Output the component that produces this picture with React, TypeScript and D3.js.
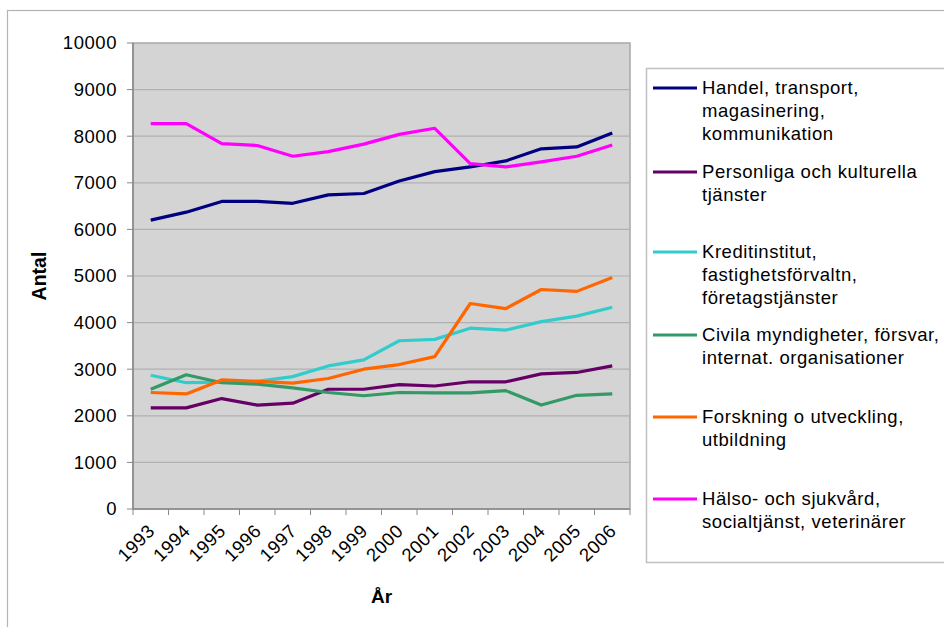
import React from "react";
import * as d3 from "d3";

const years = ["1993","1994","1995","1996","1997","1998","1999","2000","2001","2002","2003","2004","2005","2006"];
const handel = [6200, 6370, 6600, 6600, 6560, 6740, 6770, 7040, 7240, 7340, 7470, 7730, 7770, 8070];
const personliga = [2170, 2170, 2370, 2230, 2270, 2570, 2570, 2670, 2640, 2730, 2730, 2900, 2930, 3070];
const kredit = [2870, 2710, 2720, 2740, 2840, 3070, 3200, 3610, 3640, 3880, 3840, 4020, 4140, 4330];
const civila = [2570, 2880, 2710, 2680, 2600, 2500, 2430, 2500, 2490, 2490, 2540, 2230, 2440, 2470];
const forskning = [2500, 2470, 2770, 2740, 2700, 2800, 3000, 3100, 3270, 4410, 4300, 4710, 4670, 4970];
const halso = [8270, 8270, 7840, 7800, 7570, 7670, 7830, 8040, 8170, 7410, 7340, 7450, 7570, 7810];
const yTicks = [0, 1000, 2000, 3000, 4000, 5000, 6000, 7000, 8000, 9000, 10000];

const seriesNames = [
  ["Handel, transport,", "magasinering,", "kommunikation"],
  ["Personliga och kulturella", "tjänster"],
  ["Kreditinstitut,", "fastighetsförvaltn,", "företagstjänster"],
  ["Civila myndigheter, försvar,", "internat. organisationer"],
  ["Forskning o utveckling,", "utbildning"],
  ["Hälso- och sjukvård,", "socialtjänst, veterinärer"],
];
const seriesValues = [handel, personliga, kredit, civila, forskning, halso];
const seriesColors = ["#000080", "#660066", "#33CCCC", "#339966", "#FF6600", "#FF00FF"];
const legendY = [88, 172, 252, 335, 417, 499];

export default function App() {
  const W = 944, H = 627;
  const left = 133, right = 630, top = 43, bottom = 509;
  const x = d3.scaleBand<string>().domain(years).range([left, right]);
  const y = d3.scaleLinear().domain([0, 10000]).range([bottom, top]);
  const line = d3.line<number>()
    .x((_, i) => (x(years[i]) as number) + x.bandwidth() / 2)
    .y((d) => y(d));
  const font = "'Liberation Sans', Arial, sans-serif";
  const fs = 18.5;
  const ls = 0.55;
  const xr = (x(years[years.length - 1]) as number) + x.bandwidth();
  return (
    <svg width={W} height={H} style={{ position: "absolute", left: 0, top: 0, background: "#fff" }} fontFamily={font}>
      <rect x={7.5} y={10.5} width={1000} height={1000} fill="#fff" stroke="#b4b4b4" strokeWidth={1.2} />
      <rect x={left} y={top} width={right - left} height={bottom - top} fill="#d4d4d4" stroke="#a8a8a8" strokeWidth={1.5} />
      {yTicks.filter((t) => t > 0 && t < 10000).map((t) => (
        <line key={t} x1={left} x2={right} y1={y(t)} y2={y(t)} stroke="#b0b0b0" strokeWidth={1.2} />
      ))}
      <line x1={left} x2={left} y1={top} y2={bottom} stroke="#888" strokeWidth={1.5} />
      <line x1={left} x2={right} y1={bottom} y2={bottom} stroke="#888" strokeWidth={1.5} />
      {yTicks.map((t) => (
        <g key={t}>
          <line x1={left - 6} x2={left} y1={y(t)} y2={y(t)} stroke="#888" strokeWidth={1} />
          <text x={117} y={y(t)} dy="0.35em" textAnchor="end" fontSize={fs} letterSpacing={ls} fill="#000">{t}</text>
        </g>
      ))}
      {years.map((yr) => (
        <g key={yr}>
          <line x1={(x(yr) as number)} x2={(x(yr) as number)} y1={bottom} y2={bottom + 6} stroke="#888" strokeWidth={1} />
          <text transform={`translate(${(x(yr) as number) + x.bandwidth() / 2 - 4},${bottom + 14}) rotate(-45)`} textAnchor="end" dy="0.7em" fontSize={fs} letterSpacing={ls} fill="#000">{yr}</text>
        </g>
      ))}
      <line x1={xr} x2={xr} y1={bottom} y2={bottom + 6} stroke="#888" strokeWidth={1} />
      {seriesValues.map((vals, k) => (
        <path key={k} d={line(vals) || ""} fill="none" stroke={seriesColors[k]} strokeWidth={3.2} strokeLinejoin="round" />
      ))}
      <text transform={`translate(46,${(top + bottom) / 2}) rotate(-90)`} textAnchor="middle" fontSize={19.5} fontWeight="bold">Antal</text>
      <text x={(left + right) / 2} y={603} textAnchor="middle" fontSize={19} fontWeight="bold">År</text>
      <rect x={646.5} y={68.5} width={400} height={494} fill="#fff" stroke="#c0c0c0" strokeWidth={1.5} />
      {seriesNames.map((lines, k) => (
        <g key={k}>
          <line x1={653} x2={697} y1={legendY[k]} y2={legendY[k]} stroke={seriesColors[k]} strokeWidth={3} />
          {lines.map((s, j) => (
            <text key={j} x={702} y={legendY[k] + j * 23} dy="0.35em" fontSize={fs} letterSpacing={ls} fill="#000">{s}</text>
          ))}
        </g>
      ))}
    </svg>
  );
}
